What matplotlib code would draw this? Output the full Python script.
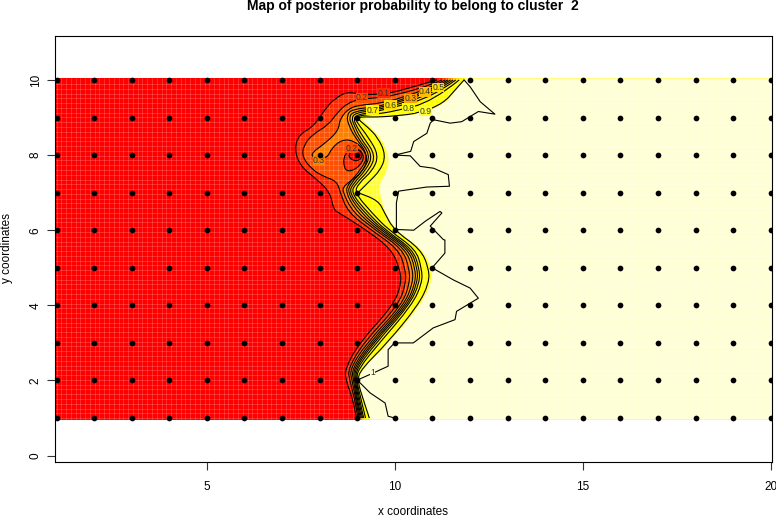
import matplotlib
matplotlib.use('Agg')
import matplotlib.pyplot as plt
from matplotlib.patches import PathPatch
from matplotlib.path import Path
import numpy as np

plt.rcParams['font.family'] = ['Liberation Sans', 'DejaVu Sans']

# Sampling sites
site_x = list(range(1, 21))
site_y = list(range(1, 11))

line_01_x = [11.12, 10.50, 10.00, 9.70, 9.17, 8.73, 8.42, 8.19, 7.84, 7.44, 7.33, 7.49, 7.93, 8.28, 8.37, 8.50, 9.25, 9.90, 10.12, 10.18, 9.96, 9.05, 8.67, 8.70, 8.88, 8.98]
line_01_y = [10.0, 9.82, 9.68, 9.63, 9.60, 9.69, 9.51, 9.29, 8.76, 8.54, 8.14, 7.70, 7.35, 7.00, 6.55, 6.47, 6.00, 5.50, 5.00, 4.60, 4.00, 3.00, 2.30, 2.00, 1.50, 1.00]
line_02_x = [11.25, 11.00, 10.05, 9.43, 9.10, 8.73, 8.46, 8.24, 7.80, 7.58, 7.53, 7.80, 8.11, 8.46, 8.55, 8.76, 9.38, 10.09, 10.27, 10.30, 10.09, 9.16, 8.75, 8.80, 8.93, 9.02]
line_02_y = [10.0, 9.88, 9.60, 9.51, 9.50, 9.38, 9.12, 8.81, 8.54, 8.27, 7.96, 7.61, 7.43, 7.30, 6.99, 6.47, 6.00, 5.50, 5.00, 4.60, 4.00, 3.00, 2.30, 2.00, 1.50, 1.00]
line_03_x = [11.34, 11.00, 10.14, 9.61, 9.17, 8.81, 8.54, 8.50, 8.15, 7.80, 7.80, 8.19, 8.32, 8.59, 8.90, 9.17, 9.28, 9.12, 8.81, 8.62, 8.62, 8.89, 9.49, 10.20, 10.38, 10.40, 10.18, 9.25, 8.80, 8.86, 8.96, 9.05]
line_03_y = [10.0, 9.82, 9.51, 9.38, 9.34, 9.27, 8.98, 8.65, 8.32, 8.07, 7.94, 7.90, 8.19, 8.41, 8.39, 8.15, 7.88, 7.53, 7.30, 7.15, 7.00, 6.47, 6.00, 5.50, 5.00, 4.60, 4.00, 3.00, 2.30, 2.00, 1.50, 1.00]
line_04_x = [11.41, 11.00, 10.00, 9.50, 8.85, 8.72, 8.76, 8.94, 9.30, 9.09, 8.76, 8.69, 9.00, 9.56, 10.28, 10.47, 10.48, 10.24, 9.32, 8.85, 8.90, 8.98, 9.08]
line_04_y = [10.0, 9.75, 9.42, 9.28, 9.22, 9.05, 8.82, 8.47, 8.00, 7.60, 7.24, 7.00, 6.47, 6.00, 5.50, 5.00, 4.60, 4.00, 3.00, 2.30, 2.00, 1.50, 1.00]
line_05_x = [11.48, 11.00, 10.00, 9.50, 8.89, 8.78, 8.85, 9.00, 9.36, 9.16, 8.82, 8.74, 9.09, 9.63, 10.35, 10.54, 10.55, 10.29, 9.38, 8.89, 8.93, 9.00, 9.11]
line_05_y = [10.0, 9.70, 9.38, 9.24, 9.16, 9.00, 8.81, 8.47, 8.00, 7.60, 7.24, 7.00, 6.47, 6.00, 5.50, 5.00, 4.60, 4.00, 3.00, 2.30, 2.00, 1.50, 1.00]
line_06_x = [11.55, 11.00, 10.00, 9.50, 8.94, 8.85, 8.91, 9.07, 9.42, 9.23, 8.89, 8.78, 9.18, 9.69, 10.41, 10.60, 10.60, 10.34, 9.43, 8.93, 8.95, 9.03, 9.14]
line_06_y = [10.0, 9.63, 9.33, 9.20, 9.12, 8.98, 8.81, 8.47, 8.00, 7.60, 7.24, 7.00, 6.47, 6.00, 5.50, 5.00, 4.60, 4.00, 3.00, 2.30, 2.00, 1.50, 1.00]
line_07_x = [11.62, 11.00, 10.00, 9.50, 8.98, 8.91, 8.95, 9.16, 9.49, 9.32, 8.96, 8.83, 9.27, 9.75, 10.47, 10.65, 10.66, 10.38, 9.50, 8.97, 8.97, 9.06, 9.17]
line_07_y = [10.0, 9.55, 9.28, 9.16, 9.07, 8.97, 8.82, 8.47, 8.00, 7.60, 7.24, 7.00, 6.47, 6.00, 5.50, 5.00, 4.60, 4.00, 3.00, 2.30, 2.00, 1.50, 1.00]
line_08_x = [11.71, 11.00, 10.00, 9.50, 9.02, 8.96, 8.99, 9.30, 9.57, 9.42, 9.03, 8.93, 9.38, 9.84, 10.55, 10.71, 10.73, 10.45, 9.59, 9.02, 8.98, 9.10, 9.22]
line_08_y = [10.0, 9.42, 9.17, 9.09, 9.05, 8.97, 8.87, 8.47, 8.00, 7.60, 7.24, 7.00, 6.47, 6.00, 5.50, 5.00, 4.60, 4.00, 3.00, 2.30, 2.00, 1.50, 1.00]
# sharp corners at the two pinches, so those points are listed twice
line_09_x = [11.84, 11.60, 11.29, 10.67, 10.00, 9.50, 9.09, 9.03, 9.03, 9.07, 9.26, 9.55, 9.76, 9.62, 9.26, 9.02, 9.02, 9.56, 9.72, 9.98, 10.68, 10.90, 10.91, 10.62, 9.80, 9.10, 9.00, 9.16, 9.32]
line_09_y = [10.0, 9.73, 9.38, 9.12, 9.04, 9.01, 9.02, 8.98, 8.98, 8.91, 8.76, 8.47, 8.00, 7.60, 7.24, 7.00, 7.00, 6.79, 6.47, 6.00, 5.50, 5.00, 4.60, 4.00, 3.00, 2.30, 2.00, 1.49, 1.00]

# Where the palest colour starts, a little past the 0.9 line
pale_x = [11.86, 11.62, 11.32, 10.70, 10.00, 9.50, 9.10, 9.30, 9.62, 9.84, 9.82, 9.58, 9.60, 9.74, 10.02, 10.72, 10.98, 10.98, 10.68, 9.84, 9.14, 9.02, 9.18, 9.34]
pale_y = [10.0, 9.73, 9.36, 9.10, 9.02, 8.99, 8.98, 8.78, 8.47, 8.00, 7.60, 7.24, 6.95, 6.47, 6.00, 5.50, 5.00, 4.60, 4.00, 3.00, 2.30, 2.00, 1.49, 1.00]

# Closed rings around the low spot at (9, 8)
ring_02_x = [8.85, 8.64, 8.64, 8.81, 9.08, 9.19, 9.05, 8.85]
ring_02_y = [8.20, 8.04, 7.64, 7.55, 7.72, 7.96, 8.17, 8.20]
ring_01_x = [8.88, 8.73, 8.88, 9.05, 9.15, 9.05, 8.88]
ring_01_y = [8.15, 8.00, 7.85, 7.85, 8.00, 8.15, 8.15]

# Outermost line, level 1
line_10_x = [11.84, 12.00, 12.27, 12.66, 12.22, 11.78, 11.47, 11.03, 10.94, 10.85, 10.50, 10.42, 10.00, 10.41, 10.67, 11.03, 11.42, 11.45, 10.85, 10.10, 10.04, 10.04, 10.50, 10.81, 11.20, 11.25, 10.94, 11.29, 11.33, 11.33, 10.99, 11.55, 12.00, 12.22, 11.64, 11.60, 11.02, 10.49, 9.99, 9.82, 9.82, 9.47, 9.00, 9.34, 9.74, 9.82, 9.99]
line_10_y = [10.0, 9.82, 9.42, 9.09, 9.16, 8.89, 8.85, 8.94, 8.85, 8.58, 8.36, 8.10, 8.00, 7.98, 7.70, 7.65, 7.48, 7.17, 7.15, 7.04, 6.73, 6.02, 6.00, 6.24, 6.50, 6.46, 6.11, 5.75, 5.74, 5.39, 5.00, 4.68, 4.46, 4.19, 3.84, 3.62, 3.40, 3.00, 3.00, 2.82, 2.38, 2.22, 2.01, 1.67, 1.40, 1.05, 1.00]

lines = [line_01_x, line_02_x, line_03_x, line_04_x, line_05_x, line_06_x, line_07_x, line_08_x, line_09_x]
lines_y = [line_01_y, line_02_y, line_03_y, line_04_y, line_05_y, line_06_y, line_07_y, line_08_y, line_09_y]
band_colors = ['#FF2A00', '#FF5000', '#FF8000', '#FF9F00', '#FFBF00', '#FFDF00', '#FFF000', '#FFFF00', '#FFFF30']

level_text = ['0.1', '0.2', '0.3', '0.4', '0.5', '0.6', '0.7', '0.8', '0.9', '0.2', '0.3', '1']
level_text_x = [9.70, 9.13, 10.42, 10.80, 11.15, 9.88, 9.40, 10.36, 10.82, 8.85, 7.98, 9.41]
level_text_y = [9.65, 9.52, 9.50, 9.68, 9.80, 9.33, 9.20, 9.25, 9.17, 8.18, 7.85, 2.22]
level_text_bg = ['#FF2A00', '#FF5000', '#FF9F00', '#FFBF00', '#FFDF00', '#FFDF00', '#FFF000', '#FFFF00', '#FFFF30', '#FF5000', '#FF8000', '#FFFFD5']

x_left, x_right = 0.96, 20.03
y_low, y_high = 0.96, 10.04


def curve_path(xs, ys):
    # rounded curve through the midpoints, the read points act as control points
    pts = list(zip(xs, ys))
    verts = [pts[0]]
    codes = [Path.MOVETO]
    for a, b in zip(pts[1:-1], pts[2:]):
        verts += [a, ((a[0] + b[0]) / 2, (a[1] + b[1]) / 2)]
        codes += [Path.CURVE3, Path.CURVE3]
    verts.append(pts[-1])
    codes.append(Path.LINETO)
    return verts, codes


def fill_right(ax, xs, ys, color):
    # fill everything to the right of a line
    verts, codes = curve_path(xs, ys)
    verts += [(xs[-1], y_low), (x_right, y_low), (x_right, y_high), (xs[0], y_high), (xs[0], ys[0])]
    codes += [Path.LINETO] * 4 + [Path.CLOSEPOLY]
    ax.add_patch(PathPatch(Path(verts, codes), facecolor=color, edgecolor='none', lw=0, zorder=1))


def draw_line(ax, xs, ys, color='black', lw=0.8, fill=None):
    verts, codes = curve_path(xs, ys)
    ax.add_patch(PathPatch(Path(verts, codes), facecolor=fill if fill else 'none',
                           edgecolor=color, lw=lw, zorder=3 if fill is None else 1.5))


fig = plt.figure(figsize=(7.76, 5.18), dpi=100)
ax = fig.add_axes([55 / 776, 56 / 518, 717 / 776, 426 / 518])

ax.fill([x_left, x_right, x_right, x_left], [y_low, y_low, y_high, y_high], color='#FF0000', lw=0, zorder=1)
for xs, ys, c in zip(lines, lines_y, band_colors):
    fill_right(ax, xs, ys, c)
fill_right(ax, pale_x, pale_y, '#FFFFD5')
draw_line(ax, ring_02_x, ring_02_y, color='none', fill='#FF2A00')
draw_line(ax, ring_01_x, ring_01_y, color='none', fill='#FF0000')

# seams between image cells
ax.vlines(np.arange(1, 20, 0.127), y_low, y_high, color='white', lw=0.6, alpha=0.2, zorder=2)
ax.hlines(np.arange(1, 10, 0.127), x_left, x_right, color='white', lw=0.6, alpha=0.2, zorder=2)

for xs, ys in zip(lines, lines_y):
    draw_line(ax, xs, ys)
ax.plot(line_10_x, line_10_y, color='black', lw=0.8, zorder=3)
draw_line(ax, ring_02_x, ring_02_y)
draw_line(ax, ring_01_x, ring_01_y)

for t, tx, ty, bg in zip(level_text, level_text_x, level_text_y, level_text_bg):
    ax.text(tx, ty, t, fontsize=6.2, color='#333333', ha='center', va='center', zorder=4,
            bbox=dict(facecolor=bg, edgecolor='none', pad=0.2))

gx, gy = np.meshgrid(site_x, site_y)
ax.scatter(gx.ravel(), gy.ravel(), s=17, color='black', lw=0, zorder=5)

ax.set_xlim(x_left, x_right)
ax.set_ylim(-0.17, 11.17)
ax.set_xticks([5, 10, 15, 20])
ax.set_yticks([0, 2, 4, 6, 8, 10])
ax.tick_params(axis='both', length=5.5, width=0.8, labelsize=8.5, color='#333333')
ax.tick_params(axis='x', pad=8.2)
ax.tick_params(axis='y', pad=4)
plt.setp(ax.get_yticklabels(), rotation=90, va='center')
for spine in ax.spines.values():
    spine.set_linewidth(0.8)

fig.text(413 / 776, 1 - 6 / 518, 'Map of posterior probability to belong to cluster  2', fontsize=10,
         fontweight='bold', ha='center', va='center')
fig.text(413 / 776, 1 - 512 / 518, 'x coordinates', fontsize=8.5, ha='center', va='center')
fig.text(7 / 776, 1 - 248 / 518, 'y coordinates', fontsize=8.5, rotation=90, ha='center', va='center')

fig.savefig('out.png', dpi=100)
